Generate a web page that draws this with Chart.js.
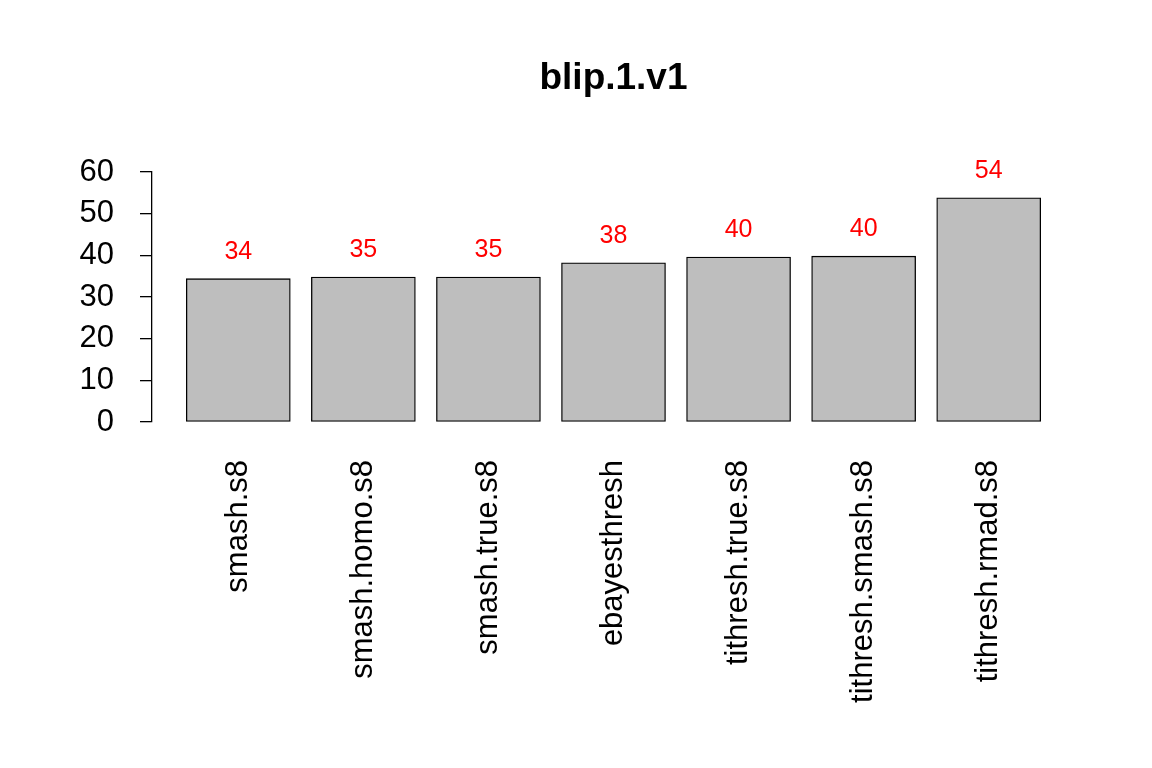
<!DOCTYPE html>
<html><head><meta charset="utf-8">
<script src="https://cdn.jsdelivr.net/npm/chart.js@4"></script>
<style>html,body{margin:0;padding:0;background:#fff}#w{width:1152px;height:768px}</style>
</head><body><div id="w"><canvas id="c" width="1152" height="768"></canvas></div>
<script>
const categories = ["smash.s8","smash.homo.s8","smash.true.s8","ebayesthresh","tithresh.true.s8","tithresh.smash.s8","tithresh.rmad.s8"];
const values = [34.4, 34.8, 34.8, 38.2, 39.6, 39.8, 53.8];
const yTicks = [0,10,20,30,40,50,60];
const title = "blip.1.v1";

const centers = categories.map((_, i) => 0.7 + 1.2 * i);
const F = "'Liberation Sans', Arial, sans-serif";

const overlay = {
  id: 'overlay',
  afterDatasetsDraw(chart) {
    const ctx = chart.ctx, xs = chart.scales.x, ys = chart.scales.y, a = chart.chartArea;
    ctx.save();
    ctx.fillStyle = '#000';
    ctx.font = "bold 37px " + F;
    ctx.textAlign = 'center'; ctx.textBaseline = 'middle';
    ctx.fillText(title, (a.left + a.right) / 2, 79);
    ctx.fillStyle = '#ff0000';
    ctx.font = "25px " + F;
    values.forEach((v, i) => {
      ctx.fillText(String(Math.round(v)), xs.getPixelForValue(centers[i]), ys.getPixelForValue(v) - 27);
    });
    ctx.restore();
  }
};

new Chart(document.getElementById('c'), {
  type: 'bar',
  data: { datasets: [{ data: values.map((v, i) => ({ x: centers[i], y: v })),
    backgroundColor: '#BEBEBE', borderColor: '#000', borderWidth: 1.3, barThickness: 104, borderSkipped: false }] },
  options: {
    responsive: false, animation: false, devicePixelRatio: 1,
    layout: { padding: { top: 172, right: 77, left: 0, bottom: 0 } },
    plugins: { legend: { display: false }, tooltip: { enabled: false } },
    scales: {
      x: { type: 'linear', min: -0.128, max: 8.728, offset: false,
        afterBuildTicks(s) { s.ticks = centers.map(v => ({ value: v })); },
        afterFit(s) { s.height = 346; },
        grid: { display: false, drawTicks: false }, border: { display: false },
        ticks: { autoSkip: false, minRotation: 90, maxRotation: 90, padding: 38, color: '#000',
          font: { family: F, size: 31 },
          callback: (v, i) => categories[i] } },
      y: { min: 0, max: 60,
        afterBuildTicks(s) { s.ticks = yTicks.map(v => ({ value: v })); },
        afterFit(s) { s.width = 152; },
        grid: { display: true, drawOnChartArea: false, drawTicks: true, tickLength: 12, color: '#000', lineWidth: 1.3, tickWidth: 1.3 },
        border: { display: true, color: '#000', width: 1.3 },
        ticks: { padding: 26, color: '#000', font: { family: F, size: 31 } } }
    }
  },
  plugins: [overlay]
});
</script></body></html>
